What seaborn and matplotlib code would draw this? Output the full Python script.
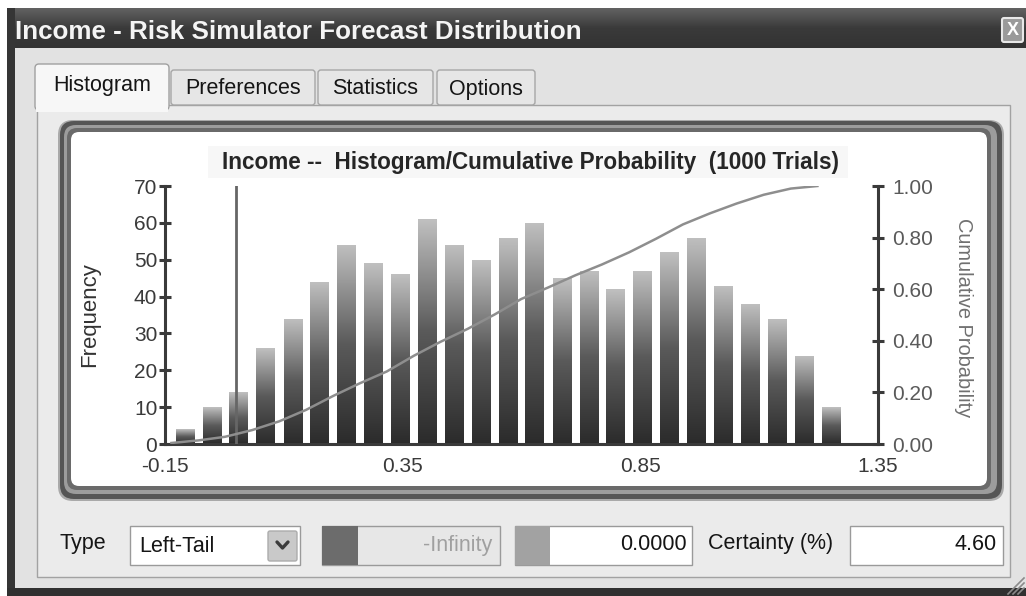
import numpy as np
import matplotlib
matplotlib.use("Agg")
import matplotlib.pyplot as plt
from matplotlib.patches import Rectangle, FancyBboxPatch
from matplotlib.colors import LinearSegmentedColormap
import seaborn as sns

# ---------------- data ----------------
bin_centers = [-0.108, -0.051, 0.005, 0.062, 0.119, 0.175, 0.232, 0.288, 0.345, 0.402,
               0.458, 0.515, 0.572, 0.628, 0.685, 0.742, 0.798, 0.855, 0.911, 0.968,
               1.025, 1.081, 1.138, 1.195, 1.251]
frequency = [4, 10, 14, 26, 34, 44, 54, 49, 46, 61, 54, 50, 56, 60,
             45, 47, 42, 47, 52, 56, 43, 38, 34, 24, 10]
n_trials = 1000
left_tail_value = 0.0
certainty_pct = "4.60"
x_ticks = [-0.15, 0.35, 0.85, 1.35]
x_tick_labels = ["-0.15", "0.35", "0.85", "1.35"]
freq_ticks = [0, 10, 20, 30, 40, 50, 60, 70]
freq_tick_labels = ["0", "10", "20", "30", "40", "50", "60", "70"]
prob_ticks = [0.0, 0.2, 0.4, 0.6, 0.8, 1.0]
prob_tick_labels = ["0.00", "0.20", "0.40", "0.60", "0.80", "1.00"]
tab_names = ["Histogram", "Preferences", "Statistics", "Options"]
window_title = "Income - Risk Simulator Forecast Distribution"
chart_title = "Income --  Histogram/Cumulative Probability  (1000 Trials)"

# cumulative probability derived from the frequencies
cum_prob = np.cumsum(frequency) / n_trials
bin_w = bin_centers[1] - bin_centers[0]
cum_x = [c - bin_w / 2 for c in bin_centers]

# ---------------- figure ----------------
plt.rcParams["font.family"] = ["Liberation Sans", "DejaVu Sans"]
FONT = ["Liberation Sans", "DejaVu Sans"]
UI_SIZE = 15.5
W, H = 1026, 596
fig = plt.figure(figsize=(W / 100, H / 100), dpi=100)
fig.patch.set_facecolor("white")
bg = fig.add_axes([0, 0, 1, 1], zorder=0)
bg.axis("off")
renderer = fig.canvas.get_renderer()


def rect(x0, y0, x1, y1, fc, ec="none", lw=1.0, z=1):
    r = Rectangle((x0, y0), x1 - x0, y1 - y0, facecolor=fc, edgecolor=ec,
                  linewidth=lw, zorder=z)
    bg.add_patch(r)
    return r


def rrect(x0, y0, x1, y1, rad, fc, ec="none", lw=1.0, z=1):
    p = FancyBboxPatch((x0 + rad, y0 + rad), (x1 - x0) - 2 * rad, (y1 - y0) - 2 * rad,
                       boxstyle=f"round,pad={rad},rounding_size={rad}",
                       facecolor=fc, edgecolor=ec, linewidth=lw, zorder=z)
    bg.add_patch(p)
    return p


def fit_text(x, y, s, width_px, ha="left", va="center", rotation=0, weight="normal",
             color="#111111", z=5):
    t = bg.text(x, y, s, ha=ha, va=va, rotation=rotation, fontsize=12,
                fontweight=weight, color=color, family=FONT, zorder=z)
    bb = t.get_window_extent(renderer=renderer)
    w = bb.height if rotation in (90, 270) else bb.width
    t.set_fontsize(12 * width_px / w)
    return t


def ui_text(x, y, s, ha="left", color="#151515", size=UI_SIZE):
    return bg.text(x, y, s, ha=ha, va="center", fontsize=size, color=color,
                   family=FONT, zorder=5)


bg.set_xlim(0, W)
bg.set_ylim(H, 0)

# window chrome
rect(7, 8, W, H, "#e2e2e2", z=0.5)
tb_cmap = LinearSegmentedColormap.from_list("tb", ["#626262", "#3a3a3a", "#333333"])
bg.imshow(np.linspace(0, 1, 60).reshape(-1, 1), extent=[7, W, 48, 8], cmap=tb_cmap,
          aspect="auto", zorder=1)
rect(7, 8, 15, H, "#353535", z=1.2)
rect(7, 588, W, H, "#303030", z=1.2)
fit_text(15, 32, window_title, 563, weight="bold", color="#f4f4f4")
# close button
rrect(1002, 18, 1023, 42, 2, "#9a9a9a", ec="#e8e8e8", lw=1.5, z=2)
bg.text(1012.5, 30.5, "X", ha="center", va="center", fontsize=13, fontweight="bold",
        color="white", zorder=3, family=FONT)

# tab panel
rect(37, 105, 1010, 577, "#ebebeb", ec="#a2a2a2", lw=1.0, z=1.5)

# tabs
tab_boxes = [(35, 169), (171, 315), (318, 433), (437, 535)]
for i, (name, (tx0, tx1)) in enumerate(zip(tab_names, tab_boxes)):
    if i == 0:
        rrect(tx0, 64, tx1, 110, 4, "#f7f7f7", ec="#a0a0a0", lw=1.0, z=2)
        rect(tx0 + 1, 104, tx1 - 1, 112, "#f7f7f7", z=2.1)
        ui_text((tx0 + tx1) / 2, 86, name, ha="center")
    else:
        rrect(tx0, 70, tx1, 105, 3, "#e6e6e6", ec="#a6a6a6", lw=1.0, z=1.8)
        ui_text((tx0 + tx1) / 2, 89, name, ha="center")

# chart frame (beveled, rounded)
rrect(58, 120, 1004, 501, 15, "#a9a9a9", z=2)
rrect(60, 121, 1002, 499, 14, "#555555", z=2.1)
rrect(64, 125, 997, 494, 12, "#9c9c9c", z=2.2)
rrect(67, 128, 991, 490, 10, "#6a6a6a", z=2.3)
rrect(71, 132, 987, 486, 8, "white", z=2.4)
rect(208, 146, 848, 178, "#f7f7f7", z=2.5)
fit_text(530, 162, chart_title, 613, ha="center", weight="bold", color="#262626", z=3)
fit_text(90, 315, "Frequency", 105, ha="center", rotation=90, color="#333333", z=3)
fit_text(963, 318, "Cumulative Probability", 200, ha="center", rotation=270,
         color="#707070", z=3)

# bottom controls
ui_text(60, 544, "Type")
rect(130, 526, 300, 565, "white", ec="#9a9a9a", lw=1.0, z=2)
ui_text(139, 547, "Left-Tail")
rrect(268, 531, 297, 561, 2, "#c9c9c9", ec="#acacac", lw=1.0, z=3)
bg.plot([277, 282.5, 288], [542, 548, 542], color="#3c3c3c", lw=2.4, zorder=4,
        solid_capstyle="round")
rect(322, 526, 500, 565, "#e7e7e7", ec="#9a9a9a", lw=1.0, z=2)
rect(322, 526, 358, 565, "#6c6c6c", z=2.1)
ui_text(492, 545, "-Infinity", ha="right", color="#a0a0a0")
rect(515, 526, 692, 565, "white", ec="#9a9a9a", lw=1.0, z=2)
rect(515, 526, 550, 565, "#a2a2a2", z=2.1)
ui_text(687, 545, "0.0000", ha="right")
ui_text(708, 544, "Certainty (%)")
rect(850, 526, 1003, 565, "white", ec="#9a9a9a", lw=1.0, z=2)
ui_text(997, 545, certainty_pct, ha="right")
# resize grip
for k in range(3):
    o = 5 * k
    bg.plot([1008 + o, 1024], [594, 578 + o], color="#8a8a8a", lw=1.2, zorder=3)

# ---------------- chart axes ----------------
ax = fig.add_axes([165 / W, (H - 444) / H, 713 / W, 258 / H], zorder=3)
ax.patch.set_visible(False)
sns.barplot(x=bin_centers, y=frequency, native_scale=True, width=0.7,
            color="#555555", errorbar=None, ax=ax)

bar_cmap = LinearSegmentedColormap.from_list("bar", ["#2b2b2b", "#5a5a5a", "#c0c0c0"])
grad = np.linspace(0, 1, 256).reshape(-1, 1)
for p in list(ax.patches):
    x0, w, h = p.get_x(), p.get_width(), p.get_height()
    im = ax.imshow(grad, extent=[x0, x0 + w, 0, h], origin="lower", cmap=bar_cmap,
                   aspect="auto", zorder=2)
    im.set_clip_path(p)
    p.set_facecolor("none")
    p.set_edgecolor("none")

ax.axvline(left_tail_value, ymin=0, ymax=1, color="#666666", lw=2.0, zorder=5)

ax.set_xlim(-0.15, 1.35)
ax.set_ylim(0, 70)
ax.set_xticks(x_ticks)
ax.set_xticklabels(x_tick_labels)
ax.set_yticks(freq_ticks)
ax.set_yticklabels(freq_tick_labels)
ax.set_xlabel("")
ax.set_ylabel("")
for s in ["top", "right"]:
    ax.spines[s].set_visible(False)
for s in ["left", "bottom"]:
    ax.spines[s].set_color("#3a3a3a")
    ax.spines[s].set_linewidth(2.2)
ax.tick_params(axis="y", direction="inout", length=9, width=2.2, color="#3a3a3a",
               labelsize=15, labelcolor="#3a3a3a", pad=1)
ax.tick_params(axis="x", length=0, labelsize=15, labelcolor="#3a3a3a", pad=9)

ax2 = ax.twinx()
ax2.set_zorder(4)
ax2.patch.set_visible(False)
sns.lineplot(x=cum_x, y=cum_prob, ax=ax2, color="#8e8e8e", lw=1.8)
ax2.set_ylim(0, 1.0)
ax2.set_yticks(prob_ticks)
ax2.set_yticklabels(prob_tick_labels)
ax2.set_ylabel("")
for s in ["top", "left", "bottom"]:
    ax2.spines[s].set_visible(False)
ax2.spines["right"].set_color("#3a3a3a")
ax2.spines["right"].set_linewidth(2.2)
ax2.tick_params(axis="y", direction="inout", length=9, width=2.2, color="#3a3a3a",
                labelsize=15, labelcolor="#5a5a5a", pad=6)
ax.set_xlim(-0.15, 1.35)

bg.set_xlim(0, W)
bg.set_ylim(H, 0)
fig.savefig("out.png", dpi=100)
